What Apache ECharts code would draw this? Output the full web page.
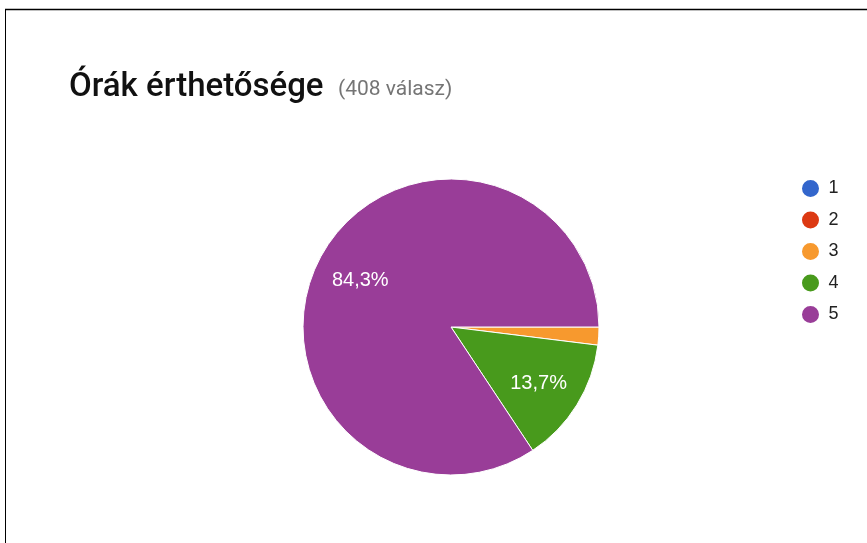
<!DOCTYPE html>
<html><head><meta charset="utf-8">
<script src="https://cdn.jsdelivr.net/npm/echarts@6/dist/echarts.min.js"></script>
<style>html,body{margin:0;padding:0;background:#fff;}#c{width:867px;height:543px;}</style>
</head><body><div id="c"></div>
<script>
const categories = ['1', '2', '3', '4', '5'];
const counts = [0, 0, 8, 56, 344];
const colors = ['#3366cc', '#dc3912', '#f7992e', '#489a1c', '#993d98'];
const titleText = 'Órák érthetősége';
const subText = '(408 válasz)';

const total = counts.reduce((a, b) => a + b, 0);
const data = categories.map((c, i) => ({ name: c, value: counts[i], itemStyle: { color: colors[i] } }));
const labelData = categories.map((c, i) => ({ name: c, value: counts[i] }));

const chart = echarts.init(document.getElementById('c'), null, { renderer: 'canvas' });
chart.setOption({
  animation: false,
  backgroundColor: '#fff',
  title: [
    {
      left: 69, top: 69, padding: 0, text: titleText,
      textStyle: { fontFamily: 'Roboto', fontWeight: 500, fontSize: 33, color: '#111', lineHeight: 37 }
    },
    {
      left: 338, top: 78, padding: 0, text: subText,
      textStyle: { fontFamily: 'Roboto', fontWeight: 'normal', fontSize: 21, color: '#757575', lineHeight: 24 }
    }
  ],
  legend: {
    orient: 'vertical', left: 800, top: 178, padding: 0,
    icon: 'circle', itemWidth: 20, itemHeight: 19, itemGap: 10.5,
    textStyle: { fontFamily: 'Liberation Sans', fontSize: 18, lineHeight: 19, color: '#222', padding: [0, 0, 0, 3] },
    data: categories.map((c, i) => ({ name: c, itemStyle: { color: colors[i], opacity: 1 } })),
    selectedMode: false
  },
  series: [
    {
      type: 'pie', center: [451, 327], radius: [0, 148],
      startAngle: 0, clockwise: true, minAngle: 0,
      label: { show: false }, labelLine: { show: false },
      itemStyle: { borderColor: '#fff', borderWidth: 1 },
      data: data, silent: true
    },
    {
      type: 'pie', center: [451, 329], radius: [0, 200],
      startAngle: 0, clockwise: true, silent: true,
      itemStyle: { opacity: 0 },
      label: {
        show: true, position: 'inside', fontFamily: 'Liberation Sans', fontSize: 20, color: '#fff', opacity: 1,
        formatter: p => {
          const pct = p.value / total * 100;
          return pct < 5 ? '' : pct.toFixed(1).replace('.', ',') + '%';
        }
      },
      labelLine: { show: false },
      data: labelData
    }
  ],
  graphic: [
    { type: 'line', shape: { x1: 5, y1: 9.5, x2: 867, y2: 9.5 }, style: { stroke: '#000', lineWidth: 1.5 } },
    { type: 'line', shape: { x1: 5.5, y1: 9, x2: 5.5, y2: 543 }, style: { stroke: '#000', lineWidth: 1 } }
  ]
});
</script></body></html>
